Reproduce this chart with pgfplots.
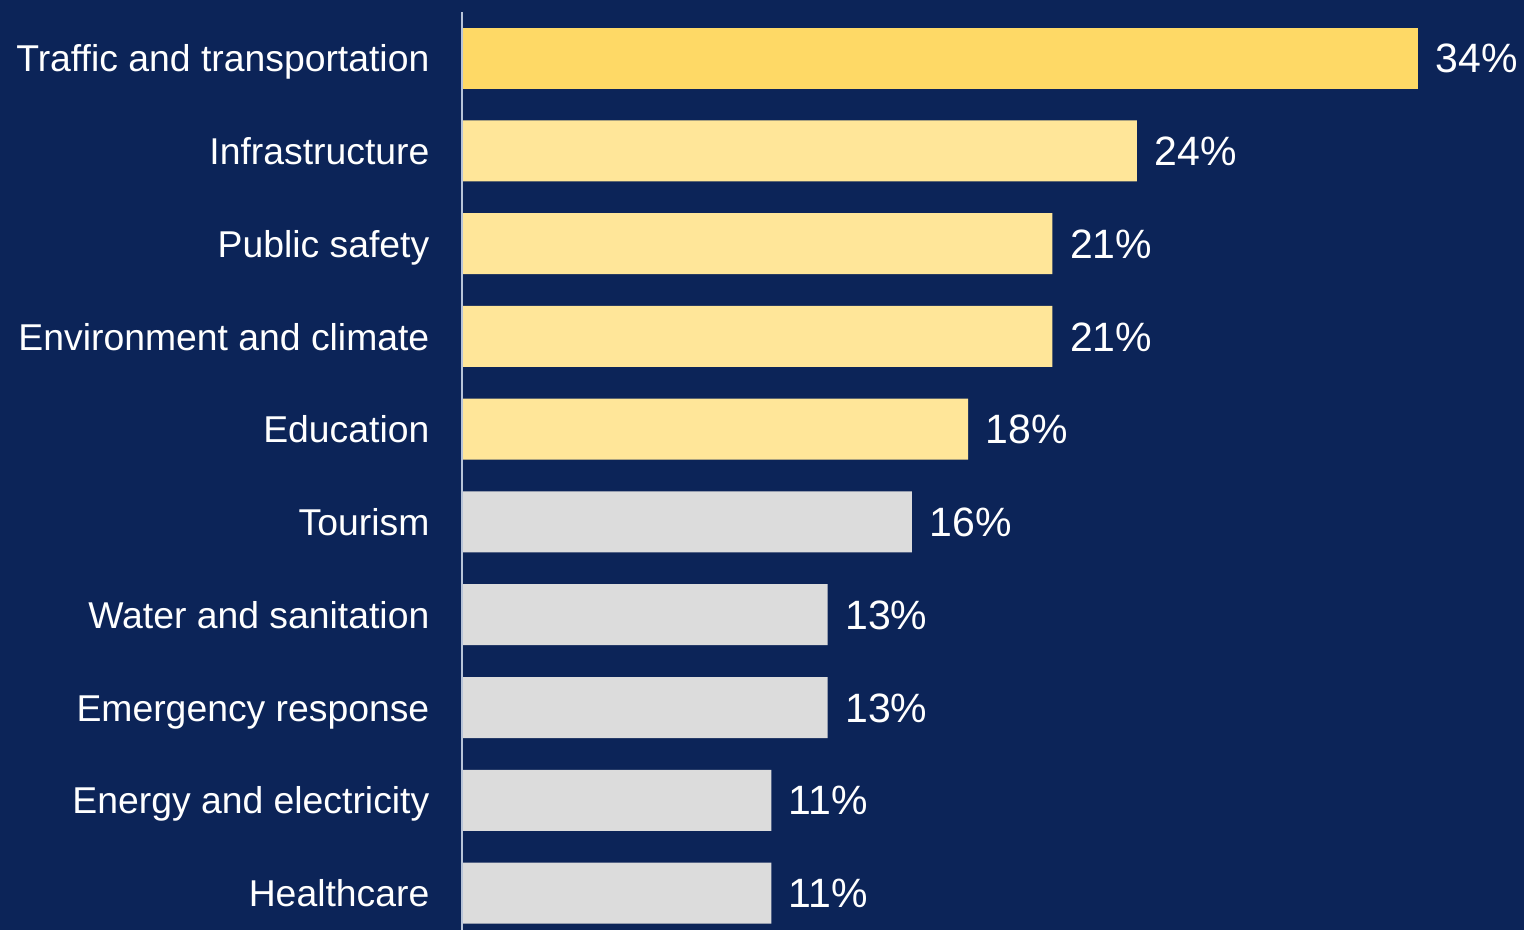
\documentclass[border=0pt]{standalone}
\usepackage{fontspec}
\setmainfont{Liberation Sans}
\usepackage{pgfplots}
\pgfplotsset{compat=1.18}
\definecolor{navy}{HTML}{0C2458}
\definecolor{gold}{HTML}{FED966}
\definecolor{lyellow}{HTML}{FFE699}
\definecolor{lgray}{HTML}{DCDCDC}
\definecolor{axisline}{HTML}{B8C4D8}
\begin{document}
\begin{tikzpicture}
\fill[navy] (0,0) rectangle (457.2pt,279pt);
\begin{axis}[
  at={(138.6pt,0pt)}, anchor=south west,
  scale only axis, width=318.6pt, height=279pt,
  xmin=0, xmax=37.77, ymin=-0.625, ymax=9.398,
  y dir=reverse,
  xbar, bar width=18.3pt, bar shift=0pt,
  axis line style={draw=none},
  xtick=\empty,
  ytick={0,...,9},
  yticklabels={Traffic and transportation, Infrastructure, Public safety, Environment and climate, Education, Tourism, Water and sanitation, Emergency response, Energy and electricity, Healthcare},
  major tick length=0pt,
  yticklabel style={text=white, font=\fontsize{11.2}{13}\selectfont, anchor=east, inner sep=0pt, xshift=-9.6pt, yshift=-0.6pt, text height=0.95em, text depth=0.25em},
  /pgf/number format/assume math mode=true,
  point meta=x,
  nodes near coords={\pgfmathprintnumber{\pgfplotspointmeta}\%},
  nodes near coords style={text=white, font=\fontsize{12.3}{14}\selectfont, anchor=west, inner sep=0pt, xshift=5.1pt, yshift=-0.9pt, text height=0.95em, text depth=0.25em},
  clip=false,
]
\addplot[fill=gold, draw=none] coordinates {(34,0)};
\addplot[fill=lyellow, draw=none] coordinates {(24,1) (21,2) (21,3) (18,4)};
\addplot[fill=lgray, draw=none] coordinates {(16,5) (13,6) (13,7) (11,8) (11,9)};
\draw[axisline, line width=0.5pt] (axis cs:0,-0.496) -- (axis cs:0,9.398);
\end{axis}
\pgfresetboundingbox
\path[use as bounding box] (0,0) rectangle (457.2pt,279pt);
\end{tikzpicture}
\end{document}
